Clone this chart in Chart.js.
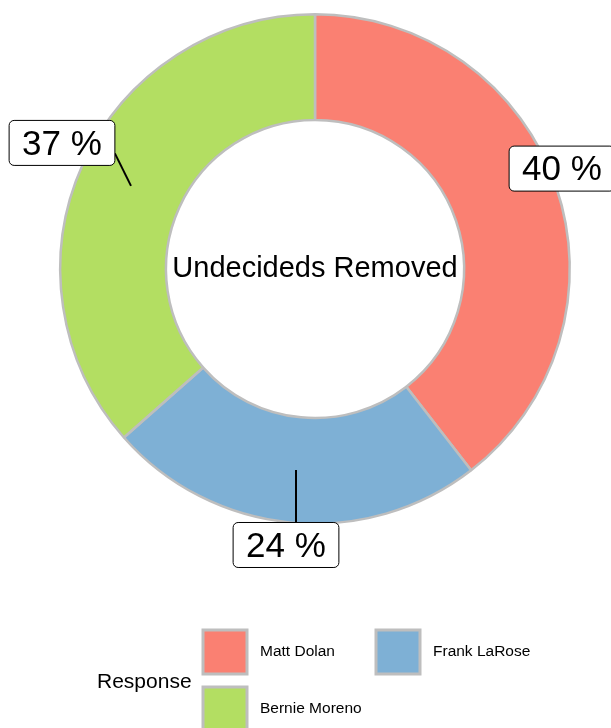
<!DOCTYPE html>
<html>
<head>
<meta charset="utf-8">
<script src="https://cdn.jsdelivr.net/npm/chart.js@4"></script>
<style>
  html, body { margin: 0; padding: 0; background: #ffffff; }
  #chart { display: block; }
</style>
</head>
<body>
<canvas id="chart" width="611" height="728"></canvas>
<script>
// Data
const categories = ['Matt Dolan', 'Frank LaRose', 'Bernie Moreno'];
const shares = [39.5, 24.0, 36.5];
const shareLabels = ['40 %', '24 %', '37 %'];
const centerTitle = 'Undecideds Removed';
const legendTitle = 'Response';

// Styling
const sliceColors = ['#fa8072', '#7eb0d5', '#b3de62'];
const edgeColor = '#bebebe';
const fontFamily = '"Liberation Sans", Arial, Helvetica, sans-serif';
// where each percentage box sits relative to the middle of its slice
const labelOffsets = [[56, -35], [-10, 75], [-69, -43]];

/**
 * Draws the text in the hole and the boxed percentage labels
 */
const sliceLabels = {
  id: 'sliceLabels',
  afterDatasetsDraw(chart) {
    const ctx = chart.ctx;
    const meta = chart.getDatasetMeta(0);
    const first = meta.data[0];

    ctx.save();
    ctx.fillStyle = '#000';
    ctx.font = '29px ' + fontFamily;
    ctx.textAlign = 'center';
    ctx.textBaseline = 'middle';
    ctx.fillText(centerTitle, first.x, first.y);

    ctx.font = '35px ' + fontFamily;
    meta.data.forEach((arc, i) => {
      const mid = (arc.startAngle + arc.endAngle) / 2;
      const r = (arc.innerRadius + arc.outerRadius) / 2;
      const px = arc.x + Math.cos(mid) * r;
      const py = arc.y + Math.sin(mid) * r;
      const cx = px + labelOffsets[i][0];
      const cy = py + labelOffsets[i][1];
      const w = ctx.measureText(shareLabels[i]).width + 26;
      const h = 45;
      const x0 = cx - w / 2, y0 = cy - h / 2;

      // leader line to the nearest point of the box (short ones are dropped)
      const nx = Math.min(Math.max(px, x0 + 8), x0 + w);
      const ny = Math.min(Math.max(py, y0), y0 + h - 12);
      if (Math.hypot(nx - px, ny - py) > 30) {
        ctx.beginPath();
        ctx.moveTo(px, py);
        ctx.lineTo(nx, ny);
        ctx.strokeStyle = '#000';
        ctx.lineWidth = 2;
        ctx.stroke();
      }

      ctx.beginPath();
      ctx.roundRect(x0, y0, w, h, 5);
      ctx.fillStyle = '#fff';
      ctx.fill();
      ctx.strokeStyle = '#000';
      ctx.lineWidth = 1;
      ctx.stroke();

      ctx.fillStyle = '#000';
      ctx.fillText(shareLabels[i], cx, cy + 2);
    });
    ctx.restore();
  }
};

/**
 * Legend below the ring: title on the left, two columns of keys
 */
const sideLegend = {
  id: 'sideLegend',
  afterDraw(chart) {
    const ctx = chart.ctx;
    const cols = [203, 376];
    const rows = [630, 687];
    const size = 44;

    ctx.save();
    ctx.textBaseline = 'middle';
    ctx.textAlign = 'left';
    ctx.fillStyle = '#000';
    ctx.font = '21px ' + fontFamily;
    ctx.fillText(legendTitle, 97, 682);

    ctx.font = '15.5px ' + fontFamily;
    categories.forEach((name, i) => {
      const x = cols[i % 2];
      const y = rows[Math.floor(i / 2)];
      ctx.fillStyle = sliceColors[i];
      ctx.fillRect(x, y, size, size);
      ctx.strokeStyle = edgeColor;
      ctx.lineWidth = 3;
      ctx.strokeRect(x, y, size, size);
      ctx.fillStyle = '#000';
      ctx.fillText(name, x + 57, y + size / 2);
    });
    ctx.restore();
  }
};

const ctx = document.getElementById('chart').getContext('2d');
new Chart(ctx, {
  type: 'doughnut',
  data: {
    labels: categories,
    datasets: [{
      data: shares,
      backgroundColor: sliceColors,
      borderColor: edgeColor,
      borderWidth: 2.5,
      hoverOffset: 0
    }]
  },
  options: {
    responsive: false,
    animation: false,
    cutout: '58.5%',
    layout: {
      padding: { left: 59, right: 40, top: 13, bottom: 203 }
    },
    plugins: {
      legend: { display: false },
      tooltip: { enabled: false }
    }
  },
  plugins: [sliceLabels, sideLegend]
});
</script>
</body>
</html>
